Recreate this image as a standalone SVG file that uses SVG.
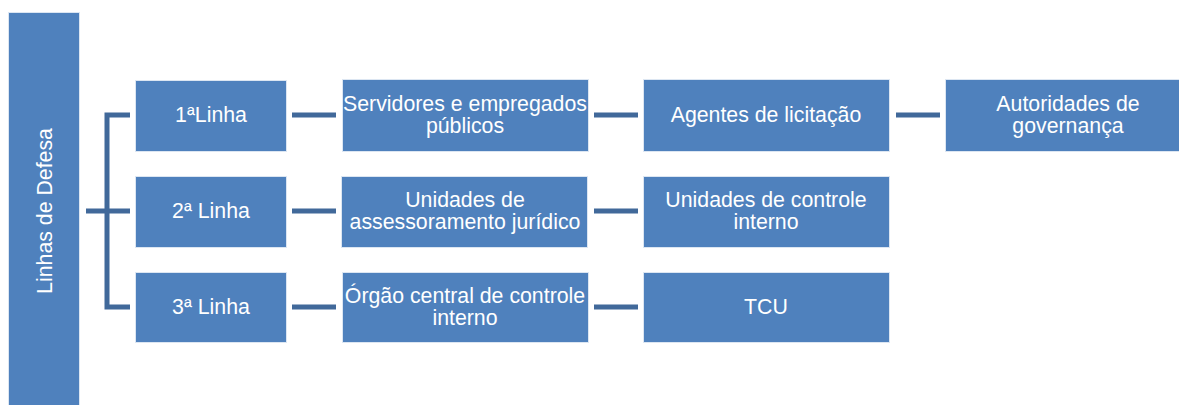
<svg xmlns="http://www.w3.org/2000/svg" width="1179" height="405" viewBox="0 0 1179 405">
<style>
.box{fill:#4F81BD;stroke:#DCE6F2;stroke-width:1}
.t{font-family:"Liberation Sans",Arial,sans-serif;font-size:21.3px;fill:#FFFFFF;text-anchor:middle}
.c{stroke:#41699A;stroke-width:5;fill:none}
</style>
<rect width="1179" height="405" fill="#FFFFFF"/>
<g id="linhas-de-defesa">
<rect class="box" x="8.5" y="12.5" width="71" height="400"/>
<text class="t" transform="translate(52,211) rotate(-90)">Linhas de Defesa</text>
</g>
<g id="connectors">
<path class="c" d="M86,211H107M130,115H107V307H130M107,211H130"/>
<path class="c" d="M292,115H336M292,211H336M292,307H336"/>
<path class="c" d="M594,115H638M594,211H638M594,307H638"/>
<path class="c" d="M896,115H940"/>
</g>
<g id="linha1">
<rect class="box" x="135.5" y="80.5" width="151" height="71"/>
<text class="t" x="211" y="122">1ªLinha</text>
</g>
<g id="linha2">
<rect class="box" x="135.5" y="176.5" width="151" height="71"/>
<text class="t" x="211" y="218">2ª Linha</text>
</g>
<g id="linha3">
<rect class="box" x="135.5" y="272.5" width="151" height="70"/>
<text class="t" x="211" y="314">3ª Linha</text>
</g>
<g id="servidores">
<rect class="box" x="342.5" y="79.5" width="246" height="72"/>
<text class="t" x="465" y="111">Servidores e empregados</text>
<text class="t" x="465" y="133">públicos</text>
</g>
<g id="agentes">
<rect class="box" x="643.5" y="79.5" width="246" height="72"/>
<text class="t" x="766" y="122">Agentes de licitação</text>
</g>
<g id="autoridades">
<rect class="box" x="945.5" y="79.5" width="240" height="72"/>
<text class="t" x="1068" y="111">Autoridades de</text>
<text class="t" x="1068" y="133">governança</text>
</g>
<g id="assessoramento">
<rect class="box" x="341.5" y="176.5" width="246" height="71"/>
<text class="t" x="465" y="207">Unidades de</text>
<text class="t" x="465" y="229">assessoramento jurídico</text>
</g>
<g id="controle-interno">
<rect class="box" x="643.5" y="176.5" width="246" height="71"/>
<text class="t" x="766" y="207">Unidades de controle</text>
<text class="t" x="766" y="229">interno</text>
</g>
<g id="orgao-central">
<rect class="box" x="342.5" y="272.5" width="246" height="70"/>
<text class="t" x="465" y="303">Órgão central de controle</text>
<text class="t" x="465" y="325">interno</text>
</g>
<g id="tcu">
<rect class="box" x="643.5" y="272.5" width="246" height="70"/>
<text class="t" x="766" y="314">TCU</text>
</g>
</svg>
